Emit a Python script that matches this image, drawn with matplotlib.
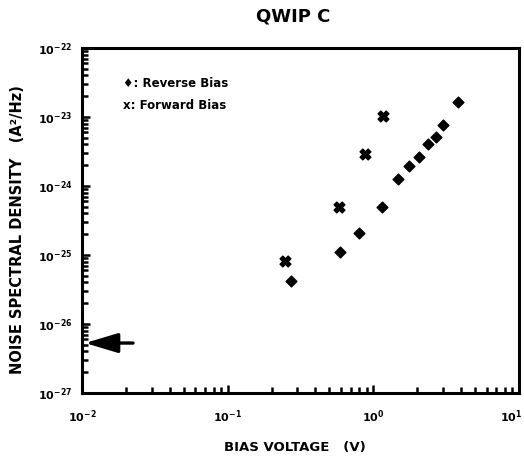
import numpy as np
import matplotlib
matplotlib.use("Agg")
import matplotlib.pyplot as plt
from matplotlib.ticker import LogLocator, NullFormatter

plt.rcParams['font.family'] = ['DejaVu Sans']
plt.rcParams['font.weight'] = 'bold'
plt.rcParams['mathtext.fontset'] = 'dejavusans'
plt.rcParams['mathtext.default'] = 'bf'

# reverse bias: bias voltage (V) and noise spectral density (A^2/Hz)
reverse_v = [0.27, 0.59, 0.80, 1.15, 1.47, 1.76, 2.06, 2.37, 2.69, 3.0, 3.81]
reverse_noise = [4.2e-26, 1.1e-25, 2.1e-25, 5.0e-25, 1.26e-24, 1.95e-24,
                 2.6e-24, 4.1e-24, 5.1e-24, 7.7e-24, 1.65e-23]

# forward bias
forward_v = [0.247, 0.58, 0.875, 1.16]
forward_noise = [8.2e-26, 5.0e-25, 2.9e-24, 1.03e-23]

# level marked by the arrow
arrow_level = 5.3e-27
arrow_from = 0.0224
arrow_to = 0.0105

x_ticks = [1e-2, 1e-1, 1e0, 1e1]
x_tick_labels = ['$10^{-2}$', '$10^{-1}$', '$10^{0}$', '$10^{1}$']

fig = plt.figure(figsize=(5.24, 4.70), dpi=100)
ax = fig.add_axes([0.1565, 0.1638, 0.834, 0.734])

ax.scatter(reverse_v, reverse_noise, marker='D', s=30, color='black', zorder=3)
ax.scatter(forward_v, forward_noise, marker='X', s=60, color='black', zorder=3)

ax.annotate('', xy=(arrow_to, arrow_level), xytext=(arrow_from, arrow_level),
            arrowprops=dict(arrowstyle='-|>,head_length=2.0,head_width=0.6',
                            mutation_scale=10, lw=2.4, color='black',
                            shrinkA=0, shrinkB=0))

ax.set_xscale('log')
ax.set_yscale('log')
ax.set_xlim(1e-2, 1e1)
ax.set_ylim(1e-27, 1e-22)

ax.set_xticks(x_ticks)
ax.yaxis.set_major_locator(LogLocator(base=10, numticks=10))
ax.xaxis.set_minor_locator(LogLocator(base=10, subs=np.arange(2, 10), numticks=20))
ax.yaxis.set_minor_locator(LogLocator(base=10, subs=np.arange(2, 10), numticks=20))
ax.xaxis.set_minor_formatter(NullFormatter())
ax.yaxis.set_minor_formatter(NullFormatter())

ax.tick_params(which='both', direction='in', top=False, right=False,
               width=1.8, labelsize=8)
ax.tick_params(which='major', length=6)
ax.tick_params(which='minor', length=4)
ax.tick_params(axis='x', labelbottom=False)
ax.tick_params(axis='y', which='major', pad=7)
for s in ax.spines.values():
    s.set_linewidth(2.2)

# x tick labels drawn by hand so the last one stays inside the figure
xtrans = ax.get_xaxis_transform()
for i, (xv, lab) in enumerate(zip(x_ticks, x_tick_labels)):
    last = i == len(x_ticks) - 1
    ax.text(xv * (1.05 if last else 1.0), -0.07, lab, transform=xtrans,
            fontsize=8, ha='right' if last else 'center', va='center',
            clip_on=False)

ax.text(0.093, 0.898, '\u2666: Reverse Bias', transform=ax.transAxes,
        fontsize=8.5, fontweight='bold', va='center')
ax.text(0.093, 0.833, 'x: Forward Bias', transform=ax.transAxes,
        fontsize=8.5, fontweight='bold', va='center')

fig.text(293 / 524, 1 - 17 / 470, 'QWIP C', fontsize=13, fontweight='bold',
         ha='center', va='center')
fig.text(295 / 524, 1 - 447 / 470, 'BIAS VOLTAGE   (V)', fontsize=9.5,
         fontweight='bold', ha='center', va='center')
fig.text(18 / 524, 1 - 230 / 470, 'NOISE SPECTRAL DENSITY   (A\u00b2/Hz)',
         fontsize=10.5, fontweight='bold', ha='center', va='center', rotation=90)

fig.savefig('out.png', dpi=100)
